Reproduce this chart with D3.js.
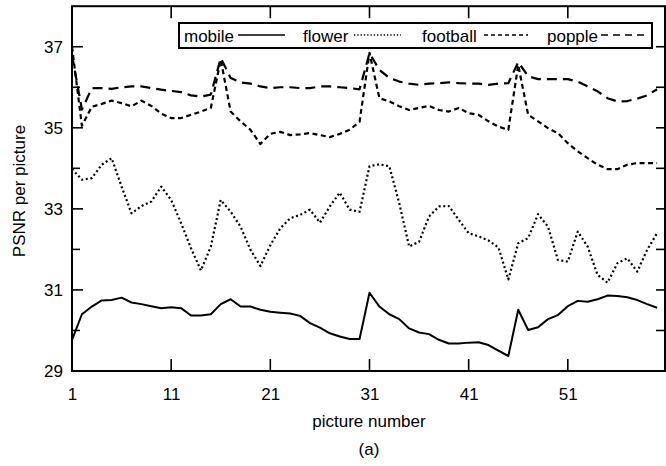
<!DOCTYPE html>
<html><head><meta charset="utf-8">
<script src="https://cdn.jsdelivr.net/npm/d3@7"></script>
<style>body{margin:0;background:#fff}svg{display:block}text{font-family:"Liberation Sans",Arial,sans-serif;fill:#000}</style>
</head><body>
<script>
const frames = [1,2,3,4,5,6,7,8,9,10,11,12,13,14,15,16,17,18,19,20,21,22,23,24,25,26,27,28,29,30,31,32,33,34,35,36,37,38,39,40,41,42,43,44,45,46,47,48,49,50,51,52,53,54,55,56,57,58,59,60];
const mobile = [29.77,30.40,30.59,30.74,30.75,30.81,30.69,30.65,30.60,30.55,30.57,30.55,30.37,30.37,30.40,30.65,30.77,30.59,30.59,30.51,30.46,30.44,30.42,30.36,30.18,30.07,29.93,29.85,29.79,29.79,30.93,30.59,30.40,30.28,30.05,29.95,29.91,29.77,29.68,29.68,29.70,29.71,29.64,29.50,29.37,30.51,30.01,30.08,30.28,30.38,30.60,30.73,30.71,30.77,30.86,30.85,30.82,30.75,30.65,30.56];
const flower = [33.98,33.72,33.76,34.09,34.25,33.55,32.89,33.07,33.18,33.55,33.22,32.65,32.03,31.48,32.07,33.22,32.93,32.56,31.99,31.59,32.10,32.52,32.77,32.85,32.98,32.66,33.06,33.40,32.98,32.93,34.05,34.10,34.05,33.14,32.07,32.19,32.81,33.06,33.07,32.73,32.40,32.32,32.22,32.05,31.26,32.15,32.28,32.87,32.56,31.74,31.70,32.44,32.07,31.37,31.18,31.66,31.78,31.45,31.99,32.40];
const football = [37.00,35.05,35.52,35.59,35.67,35.61,35.53,35.67,35.54,35.35,35.24,35.24,35.32,35.40,35.49,36.68,35.40,35.16,34.95,34.60,34.85,34.90,34.82,34.84,34.87,34.82,34.77,34.85,34.95,35.15,36.85,35.73,35.65,35.53,35.44,35.49,35.54,35.44,35.40,35.49,35.36,35.32,35.16,35.03,34.95,36.55,35.32,35.16,34.99,34.87,34.62,34.42,34.25,34.09,33.98,33.98,34.09,34.13,34.13,34.13];
const popple = [36.80,35.45,35.98,35.98,35.96,36.00,36.02,36.02,35.98,35.94,35.91,35.88,35.80,35.77,35.82,36.72,36.23,36.12,36.09,36.02,35.98,36.00,36.00,35.98,35.98,36.02,36.02,36.00,35.98,35.95,36.84,36.43,36.23,36.14,36.09,36.06,36.09,36.10,36.12,36.10,36.09,36.09,36.06,36.09,36.10,36.62,36.27,36.20,36.20,36.20,36.20,36.14,36.02,35.90,35.73,35.65,35.66,35.72,35.80,35.95];
const seriesNames = ["mobile","flower","football","popple"];
const xTicks = [1,11,21,31,41,51];
const yTicks = [29,31,33,35,37];
const yMinor = [30,32,34,36,38];
const xLabel = "picture number";
const yLabel = "PSNR per picture";
const caption = "(a)";

const W = 666, H = 466;
const svg = d3.select("body").append("svg").attr("width", W).attr("height", H);
const x = d3.scaleLinear().domain([1, 60.8]).range([72, 665]);
const y = d3.scaleLinear().domain([29, 38]).range([371, 6.2]);

const dashes = {mobile: null, flower: "2,2.6", football: "5,3.5", popple: "10,6"};
const legDashes = {mobile: null, flower: "1.3,2", football: "4,3", popple: "7,5"};
const dataMap = {mobile, flower, football, popple};

// data lines
const line = d3.line().x((d, i) => x(frames[i])).y(d => y(d));
seriesNames.forEach(n => {
  svg.append("path").datum(dataMap[n]).attr("d", line)
    .attr("fill", "none").attr("stroke", "#000").attr("stroke-width", n === "mobile" ? 2 : 2.2)
    .attr("stroke-dasharray", dashes[n]).attr("stroke-linejoin", "round");
});

// frame
const g = svg.append("g").attr("stroke", "#000").attr("stroke-width", 2).attr("fill", "none");
g.append("rect").attr("x", x(1)).attr("y", y(38)).attr("width", x.range()[1] - x(1)).attr("height", y(29) - y(38));

// axes using d3 axes
const xAxis = d3.axisBottom(x).tickValues(xTicks).tickSize(0).tickPadding(17);
const gx = svg.append("g").attr("transform", `translate(0,${y(29)})`).call(xAxis);
gx.select(".domain").remove();
gx.selectAll("text").attr("font-size", 17).attr("font-family", "Liberation Sans, Arial, sans-serif").attr("fill", "#000");

const yAxis = d3.axisLeft(y).tickValues(yTicks).tickSize(0).tickPadding(9).tickFormat(d3.format("d"));
const gy = svg.append("g").attr("transform", `translate(${x(1)},0)`).call(yAxis);
gy.select(".domain").remove();
gy.selectAll("text").attr("font-size", 17).attr("font-family", "Liberation Sans, Arial, sans-serif").attr("fill", "#000");

// ticks inside
const tk = svg.append("g").attr("stroke", "#000").attr("stroke-width", 1.6);
xTicks.filter(t => t > 1).forEach(t => {
  tk.append("line").attr("x1", x(t)).attr("x2", x(t)).attr("y1", y(29)).attr("y2", y(29) - 12);
  tk.append("line").attr("x1", x(t)).attr("x2", x(t)).attr("y1", y(38)).attr("y2", y(38) + 12);
});
yTicks.concat(yMinor).forEach(t => {
  if (t === 29 || t === 38) return;
  const major = yTicks.includes(t);
  tk.append("line").attr("y1", y(t)).attr("y2", y(t)).attr("x1", x(1)).attr("x2", x(1) + (major ? 11 : 8));
  tk.append("line").attr("y1", y(t)).attr("y2", y(t)).attr("x1", x.range()[1]).attr("x2", x.range()[1] - 9);
});

// labels
svg.append("text").attr("x", 369).attr("y", 427).attr("text-anchor", "middle").attr("font-size", 17).text(xLabel);
svg.append("text").attr("x", 369).attr("y", 455).attr("text-anchor", "middle").attr("font-size", 17).text(caption);
svg.append("text").attr("transform", "translate(25,191) rotate(-90)").attr("text-anchor", "middle").attr("font-size", 17).text(yLabel);

// legend
const leg = svg.append("g");
leg.append("rect").attr("x", 179).attr("y", 23).attr("width", 473).attr("height", 25)
  .attr("fill", "#fff").attr("stroke", "#000").attr("stroke-width", 2);
const legItems = [
  {n: "mobile", tx: 184, l1: 238, l2: 285},
  {n: "flower", tx: 303, l1: 354, l2: 401},
  {n: "football", tx: 422, l1: 484, l2: 528},
  {n: "popple", tx: 547, l1: 601, l2: 645}
];
legItems.forEach(it => {
  leg.append("text").attr("x", it.tx).attr("y", 42).attr("font-size", 17).text(it.n);
  leg.append("line").attr("x1", it.l1).attr("x2", it.l2).attr("y1", 35).attr("y2", 35)
    .attr("stroke", "#000").attr("stroke-width", it.n === "mobile" ? 1.6 : 1.4).attr("stroke-dasharray", legDashes[it.n]);
});
</script>
</body></html>
